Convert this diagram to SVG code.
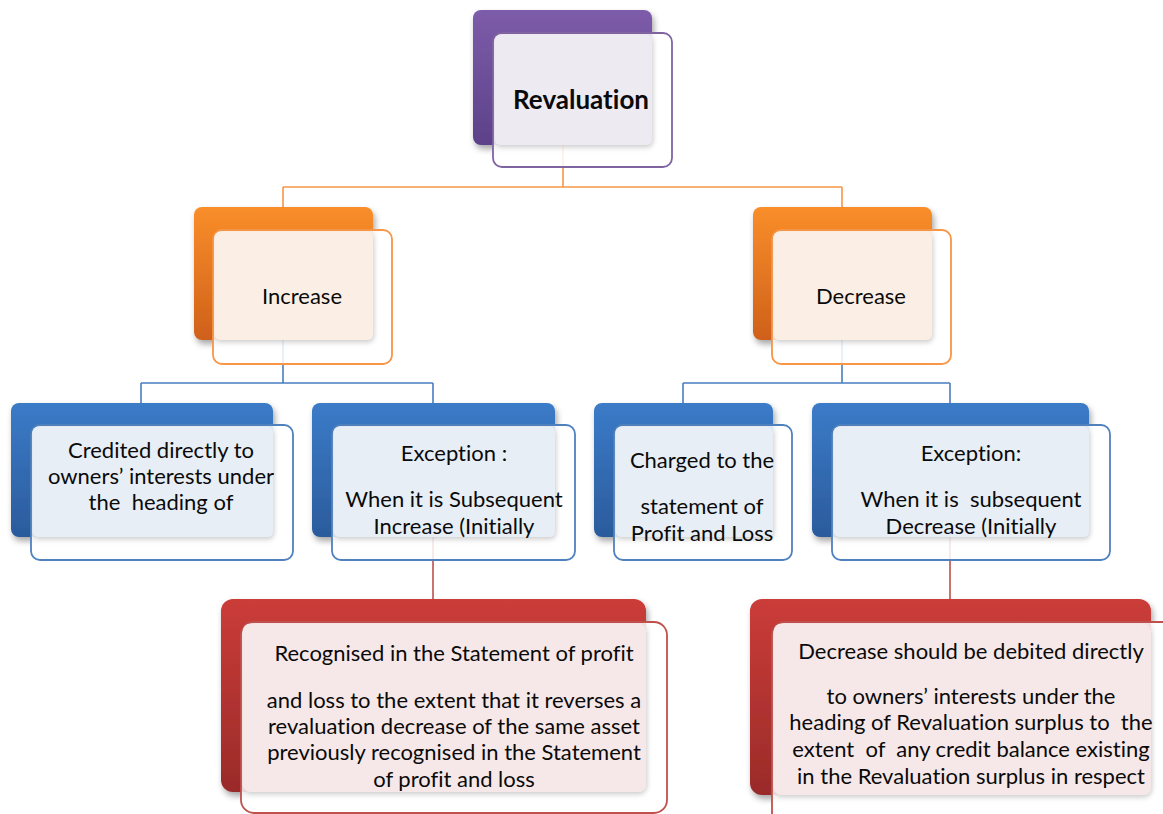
<svg xmlns="http://www.w3.org/2000/svg" width="1163" height="814" viewBox="0 0 1163 814">
<defs>
<linearGradient id="gP" x1="0" y1="0" x2="0" y2="1"><stop offset="0" stop-color="#7D5CAA"/><stop offset="1" stop-color="#5C4189"/></linearGradient>
<linearGradient id="gO" x1="0" y1="0" x2="0" y2="1"><stop offset="0" stop-color="#F98E2A"/><stop offset="1" stop-color="#CF601A"/></linearGradient>
<linearGradient id="gB" x1="0" y1="0" x2="0" y2="1"><stop offset="0" stop-color="#3B7BC8"/><stop offset="1" stop-color="#2B5B9C"/></linearGradient>
<linearGradient id="gR" x1="0" y1="0" x2="0" y2="1"><stop offset="0" stop-color="#CB3C39"/><stop offset="1" stop-color="#9A2B29"/></linearGradient>
<filter id="sh" x="-10%" y="-10%" width="125%" height="130%"><feDropShadow dx="2" dy="4" stdDeviation="3" flood-color="#000" flood-opacity="0.35"/></filter>
<filter id="sh2" x="-10%" y="-10%" width="125%" height="130%"><feDropShadow dx="1" dy="2" stdDeviation="2" flood-color="#000" flood-opacity="0.15"/></filter>
</defs>
<style>
text{font-family:Lato,"Liberation Sans",sans-serif;font-size:22px;fill:#0a0a0a;text-anchor:middle;white-space:pre;font-variant-ligatures:none;font-feature-settings:"liga" 0,"dlig" 0}
.b{font-weight:bold;font-size:26px}
.con{fill:none;stroke-width:1.6}
.o{fill:#fff;fill-opacity:0.85;stroke-width:1.8}
</style>
<rect width="1163" height="814" fill="#fff"/>
<g id="connectors">
<path class="con" stroke="#F79646" d="M563 145V187M283 187H842M283 187V207M842 187V207"/>
<path class="con" stroke="#4A7EC0" d="M283 340V383M141 383H433M141 383V403M433 383V403"/>
<path class="con" stroke="#4A7EC0" d="M842 340V383M683 383H950M683 383V403M950 383V403"/>
<path class="con" stroke="#C0504D" d="M433 537V600M950 537V600"/>
</g>
<g id="revaluation">
<rect x="473" y="10" width="179" height="135" rx="8" fill="url(#gP)" filter="url(#sh)"/>
<rect class="o" x="493" y="33" width="179" height="134" rx="9" stroke="#8064A2"/>
<rect x="494.5" y="34.5" width="157.5" height="110.5" rx="6" fill="#EDEAF2" filter="url(#sh2)"/>
<text class="b" x="581" y="109">Revaluation</text>
</g>
<g id="increase">
<rect x="194" y="207" width="179" height="133" rx="8" fill="url(#gO)" filter="url(#sh)"/>
<rect class="o" x="213" y="230" width="179" height="134" rx="9" stroke="#F79646"/>
<rect x="214.5" y="231.5" width="158.5" height="108.5" rx="6" fill="#FBEFE5" filter="url(#sh2)"/>
<text x="302" y="304">Increase</text>
</g>
<g id="decrease">
<rect x="753" y="207" width="179" height="133" rx="8" fill="url(#gO)" filter="url(#sh)"/>
<rect class="o" x="772" y="230" width="179" height="134" rx="9" stroke="#F79646"/>
<rect x="773.5" y="231.5" width="158.5" height="108.5" rx="6" fill="#FBEFE5" filter="url(#sh2)"/>
<text x="861" y="304">Decrease</text>
</g>
<g id="credited">
<rect x="11" y="403" width="262" height="134" rx="8" fill="url(#gB)" filter="url(#sh)"/>
<rect class="o" x="31" y="425" width="262" height="135" rx="9" stroke="#4F81BD"/>
<rect x="32.5" y="426.5" width="240.5" height="110.5" rx="6" fill="#E8EEF6" filter="url(#sh2)"/>
<text x="161" y="458">Credited directly to</text>
<text x="161" y="484">owners’ interests under</text>
<text x="161" y="510">the  heading of</text>
</g>
<g id="exception-increase">
<rect x="312" y="403" width="243" height="134" rx="8" fill="url(#gB)" filter="url(#sh)"/>
<rect class="o" x="332" y="425" width="243" height="135" rx="9" stroke="#4F81BD"/>
<rect x="333.5" y="426.5" width="221.5" height="110.5" rx="6" fill="#E8EEF6" filter="url(#sh2)"/>
<text x="454" y="461">Exception :</text>
<text x="454" y="507">When it is Subsequent</text>
<text x="454" y="534">Increase (Initially</text>
</g>
<g id="charged">
<rect x="594" y="403" width="179" height="134" rx="8" fill="url(#gB)" filter="url(#sh)"/>
<rect class="o" x="614" y="425" width="178" height="135" rx="9" stroke="#4F81BD"/>
<rect x="615.5" y="426.5" width="157.5" height="110.5" rx="6" fill="#E8EEF6" filter="url(#sh2)"/>
<text x="702" y="468">Charged to the</text>
<text x="702" y="514">statement of</text>
<text x="702" y="541">Profit and Loss</text>
</g>
<g id="exception-decrease">
<rect x="812" y="403" width="277" height="134" rx="8" fill="url(#gB)" filter="url(#sh)"/>
<rect class="o" x="832" y="425" width="278" height="135" rx="9" stroke="#4F81BD"/>
<rect x="833.5" y="426.5" width="255.5" height="110.5" rx="6" fill="#E8EEF6" filter="url(#sh2)"/>
<text x="971" y="461">Exception:</text>
<text x="971" y="507">When it is  subsequent</text>
<text x="971" y="534">Decrease (Initially</text>
</g>
<g id="recognised">
<rect x="221" y="599" width="425" height="193" rx="12" fill="url(#gR)" filter="url(#sh)"/>
<rect class="o" x="241" y="622" width="426" height="191" rx="13" stroke="#C0504D"/>
<rect x="242.5" y="623.5" width="403.5" height="168.5" rx="8" fill="#F6E8E8" filter="url(#sh2)"/>
<text x="454" y="661">Recognised in the Statement of profit</text>
<text x="454" y="708">and loss to the extent that it reverses a</text>
<text x="454" y="734">revaluation decrease of the same asset</text>
<text x="454" y="760">previously recognised in the Statement</text>
<text x="454" y="787">of profit and loss</text>
</g>
<g id="debited">
<rect x="750" y="599" width="401" height="196" rx="12" fill="url(#gR)" filter="url(#sh)"/>
<rect class="o" x="772" y="622" width="426" height="210" rx="13" stroke="#C0504D"/>
<rect x="773.5" y="623.5" width="377.5" height="171.5" rx="8" fill="#F6E8E8" filter="url(#sh2)"/>
<text x="971" y="659">Decrease should be debited directly</text>
<text x="971" y="704">to owners’ interests under the</text>
<text x="971" y="730">heading of Revaluation surplus to  the</text>
<text x="971" y="757">extent  of  any credit balance existing</text>
<text x="971" y="784">in the Revaluation surplus in respect</text>
</g>
</svg>
